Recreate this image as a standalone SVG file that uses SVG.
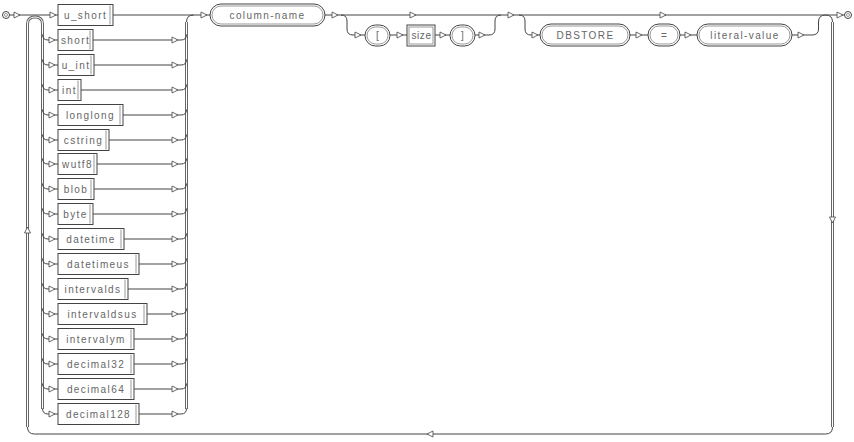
<svg xmlns="http://www.w3.org/2000/svg" width="854" height="442" viewBox="0 0 854 442">
<style>
.w{fill:none;stroke:#444;stroke-width:1}
.dv{fill:none;stroke:#666;stroke-width:3}
.dw{fill:none;stroke:#fff;stroke-width:1}
.b{fill:#fff;stroke:#444;stroke-width:1}
.b2{fill:none;stroke:#999;stroke-width:1}
.t{font-family:"Liberation Sans",Arial,sans-serif;font-size:10px;fill:#666;letter-spacing:1.4px;text-anchor:middle}
.ar{fill:#fff;stroke:#444;stroke-width:0.8}
</style>
<defs>
<path id="a" class="ar" d="M0,-3 L6,0 L0,3 Z"/>
</defs>
<g id="connectors">
<path class="dv" d="M27.5,427 V24 Q27.5,17 35,17 Q42.5,17 42.5,24 V409"/>
<path class="dw" d="M27.5,427 V24 Q27.5,17 35,17 Q42.5,17 42.5,24 V409"/>
<path class="dv" d="M186.5,409 V22"/>
<path class="dw" d="M186.5,409 V22"/>
<path class="dv" d="M832.5,22 V427"/>
<path class="dw" d="M832.5,22 V427"/>
<path class="w" d="M9.5,15 H58"/>
<path class="w" d="M113,15 H210"/>
<path class="w" d="M186.5,22 Q186.5,15 193.5,15"/>
<path class="w" d="M325,15 H844.5"/>
<path class="w" d="M27.5,427 Q27.5,434 34.5,434 H825.5 Q832.5,434 832.5,427"/>
<path class="w" d="M825.5,15 Q832.5,15 832.5,22"/>
<path class="w" d="M42.5,34.5 Q42.5,40 48,40 H58 M93,40 H181 Q186.5,40 186.5,34.5"/>
<path class="w" d="M42.5,59.5 Q42.5,65 48,65 H58 M94,65 H181 Q186.5,65 186.5,59.5"/>
<path class="w" d="M42.5,84.5 Q42.5,90 48,90 H58 M81,90 H181 Q186.5,90 186.5,84.5"/>
<path class="w" d="M42.5,109.5 Q42.5,115 48,115 H58 M123,115 H181 Q186.5,115 186.5,109.5"/>
<path class="w" d="M42.5,134.5 Q42.5,140 48,140 H58 M109,140 H181 Q186.5,140 186.5,134.5"/>
<path class="w" d="M42.5,158.5 Q42.5,164 48,164 H58 M97,164 H181 Q186.5,164 186.5,158.5"/>
<path class="w" d="M42.5,183.5 Q42.5,189 48,189 H58 M94,189 H181 Q186.5,189 186.5,183.5"/>
<path class="w" d="M42.5,208.5 Q42.5,214 48,214 H58 M93,214 H181 Q186.5,214 186.5,208.5"/>
<path class="w" d="M42.5,233.5 Q42.5,239 48,239 H58 M124,239 H181 Q186.5,239 186.5,233.5"/>
<path class="w" d="M42.5,258.5 Q42.5,264 48,264 H58 M139,264 H181 Q186.5,264 186.5,258.5"/>
<path class="w" d="M42.5,283.5 Q42.5,289 48,289 H58 M128,289 H181 Q186.5,289 186.5,283.5"/>
<path class="w" d="M42.5,308.5 Q42.5,314 48,314 H58 M147,314 H181 Q186.5,314 186.5,308.5"/>
<path class="w" d="M42.5,333.5 Q42.5,339 48,339 H58 M134,339 H181 Q186.5,339 186.5,333.5"/>
<path class="w" d="M42.5,358.5 Q42.5,364 48,364 H58 M134,364 H181 Q186.5,364 186.5,358.5"/>
<path class="w" d="M42.5,383.5 Q42.5,389 48,389 H58 M134,389 H181 Q186.5,389 186.5,383.5"/>
<path class="w" d="M42.5,408.5 Q42.5,414 48,414 H58 M139,414 H181 Q186.5,414 186.5,408.5"/>
<path class="w" d="M341,15 Q347,15 347,21 V29 Q347,35 353,35 H365"/>
<path class="w" d="M390,35 H407 M435,35 H450"/>
<path class="w" d="M475,35 H489 Q495,35 495,29 V21 Q495,15 501,15"/>
<path class="w" d="M519,15 Q525,15 525,21 V29 Q525,35 531,35 H540"/>
<path class="w" d="M630,35 H648 M680,35 H697"/>
<path class="w" d="M792,35 H812 Q818.5,35 818.5,29 V22 Q818.5,15 825.5,15"/>
<use href="#a" x="14" y="15"/>
<use href="#a" x="50" y="15"/>
<use href="#a" x="201" y="15"/>
<use href="#a" x="332" y="15"/>
<use href="#a" x="410" y="15"/>
<use href="#a" x="508" y="15"/>
<use href="#a" x="660" y="15"/>
<use href="#a" x="837" y="15"/>
<use href="#a" x="355" y="35"/>
<use href="#a" x="397" y="35"/>
<use href="#a" x="440" y="35"/>
<use href="#a" x="479" y="35"/>
<use href="#a" x="532" y="35"/>
<use href="#a" x="636" y="35"/>
<use href="#a" x="685" y="35"/>
<use href="#a" x="798" y="35"/>
<use href="#a" x="49" y="40"/><use href="#a" x="172" y="40"/>
<use href="#a" x="49" y="65"/><use href="#a" x="172" y="65"/>
<use href="#a" x="49" y="90"/><use href="#a" x="172" y="90"/>
<use href="#a" x="49" y="115"/><use href="#a" x="172" y="115"/>
<use href="#a" x="49" y="140"/><use href="#a" x="172" y="140"/>
<use href="#a" x="49" y="164"/><use href="#a" x="172" y="164"/>
<use href="#a" x="49" y="189"/><use href="#a" x="172" y="189"/>
<use href="#a" x="49" y="214"/><use href="#a" x="172" y="214"/>
<use href="#a" x="49" y="239"/><use href="#a" x="172" y="239"/>
<use href="#a" x="49" y="264"/><use href="#a" x="172" y="264"/>
<use href="#a" x="49" y="289"/><use href="#a" x="172" y="289"/>
<use href="#a" x="49" y="314"/><use href="#a" x="172" y="314"/>
<use href="#a" x="49" y="339"/><use href="#a" x="172" y="339"/>
<use href="#a" x="49" y="364"/><use href="#a" x="172" y="364"/>
<use href="#a" x="49" y="389"/><use href="#a" x="172" y="389"/>
<use href="#a" x="49" y="414"/><use href="#a" x="172" y="414"/>
<use href="#a" transform="translate(27.5,233) rotate(-90)"/>
<use href="#a" transform="translate(832.5,217) rotate(90)"/>
<use href="#a" transform="translate(433,434) rotate(180)"/>
</g>
<g id="start"><circle class="b" cx="6" cy="15" r="3.5"/><circle class="b2" cx="6" cy="15" r="1.5"/></g>
<g id="end"><circle class="b" cx="848" cy="15" r="3.5"/><circle class="b2" cx="848" cy="15" r="1.5"/></g>
<g id="u_short"><rect class="b" x="58" y="4.5" width="55" height="21"/><path class="b2" d="M110,5.5 V24.5"/><text class="t" x="85.5" y="18.5">u_short</text></g>
<g id="short"><rect class="b" x="58" y="29.5" width="35" height="21"/><path class="b2" d="M90,30.5 V49.5"/><text class="t" x="75.5" y="43.5">short</text></g>
<g id="u_int"><rect class="b" x="58" y="54.5" width="36" height="21"/><path class="b2" d="M91,55.5 V74.5"/><text class="t" x="76" y="68.5">u_int</text></g>
<g id="int"><rect class="b" x="58" y="79.5" width="23" height="21"/><path class="b2" d="M78,80.5 V99.5"/><text class="t" x="69.5" y="93.5">int</text></g>
<g id="longlong"><rect class="b" x="58" y="104.5" width="65" height="21"/><path class="b2" d="M120,105.5 V124.5"/><text class="t" x="90.5" y="118.5">longlong</text></g>
<g id="cstring"><rect class="b" x="58" y="129.5" width="51" height="21"/><path class="b2" d="M106,130.5 V149.5"/><text class="t" x="83.5" y="143.5">cstring</text></g>
<g id="wutf8"><rect class="b" x="58" y="153.5" width="39" height="21"/><path class="b2" d="M94,154.5 V173.5"/><text class="t" x="77.5" y="167.5">wutf8</text></g>
<g id="blob"><rect class="b" x="58" y="178.5" width="36" height="21"/><path class="b2" d="M91,179.5 V198.5"/><text class="t" x="76" y="192.5">blob</text></g>
<g id="byte"><rect class="b" x="58" y="203.5" width="35" height="21"/><path class="b2" d="M90,204.5 V223.5"/><text class="t" x="75.5" y="217.5">byte</text></g>
<g id="datetime"><rect class="b" x="58" y="228.5" width="66" height="21"/><path class="b2" d="M121,229.5 V248.5"/><text class="t" x="91" y="242.5">datetime</text></g>
<g id="datetimeus"><rect class="b" x="58" y="253.5" width="81" height="21"/><path class="b2" d="M136,254.5 V273.5"/><text class="t" x="98.5" y="267.5">datetimeus</text></g>
<g id="intervalds"><rect class="b" x="58" y="278.5" width="70" height="21"/><path class="b2" d="M125,279.5 V298.5"/><text class="t" x="93" y="292.5">intervalds</text></g>
<g id="intervaldsus"><rect class="b" x="58" y="303.5" width="89" height="21"/><path class="b2" d="M144,304.5 V323.5"/><text class="t" x="102.5" y="317.5">intervaldsus</text></g>
<g id="intervalym"><rect class="b" x="58" y="328.5" width="76" height="21"/><path class="b2" d="M131,329.5 V348.5"/><text class="t" x="96" y="342.5">intervalym</text></g>
<g id="decimal32"><rect class="b" x="58" y="353.5" width="76" height="21"/><path class="b2" d="M131,354.5 V373.5"/><text class="t" x="96" y="367.5">decimal32</text></g>
<g id="decimal64"><rect class="b" x="58" y="378.5" width="76" height="21"/><path class="b2" d="M131,379.5 V398.5"/><text class="t" x="96" y="392.5">decimal64</text></g>
<g id="decimal128"><rect class="b" x="58" y="403.5" width="81" height="21"/><path class="b2" d="M136,404.5 V423.5"/><text class="t" x="98.5" y="417.5">decimal128</text></g>
<g id="column-name"><rect class="b" x="210" y="4" width="115" height="22" rx="11"/><rect class="b2" x="212" y="6" width="111" height="18" rx="9"/><text class="t" x="267.5" y="18.5">column-name</text></g>
<g id="lbracket"><rect class="b" x="365" y="25" width="25" height="21" rx="10.5"/><rect class="b2" x="367" y="27" width="21" height="17" rx="8.5"/><text class="t" x="378" y="39">[</text></g>
<g id="size"><rect class="b" x="407" y="25" width="28" height="21"/><rect class="b2" x="409" y="27" width="24" height="17"/><text class="t" x="421.5" y="39" style="letter-spacing:0.6px">size</text></g>
<g id="rbracket"><rect class="b" x="450" y="25" width="25" height="21" rx="10.5"/><rect class="b2" x="452" y="27" width="21" height="17" rx="8.5"/><text class="t" x="463" y="39">]</text></g>
<g id="dbstore"><rect class="b" x="540" y="24" width="90" height="22" rx="11"/><rect class="b2" x="542" y="26" width="86" height="18" rx="9"/><text class="t" x="585.5" y="38.5">DBSTORE</text></g>
<g id="equals"><rect class="b" x="648" y="24" width="32" height="22" rx="11"/><rect class="b2" x="650" y="26" width="28" height="18" rx="9"/><text class="t" x="664.5" y="38.5">=</text></g>
<g id="literal-value"><rect class="b" x="697" y="24" width="95" height="22" rx="11"/><rect class="b2" x="699" y="26" width="91" height="18" rx="9"/><text class="t" x="745" y="38.5">literal-value</text></g>
</svg>
